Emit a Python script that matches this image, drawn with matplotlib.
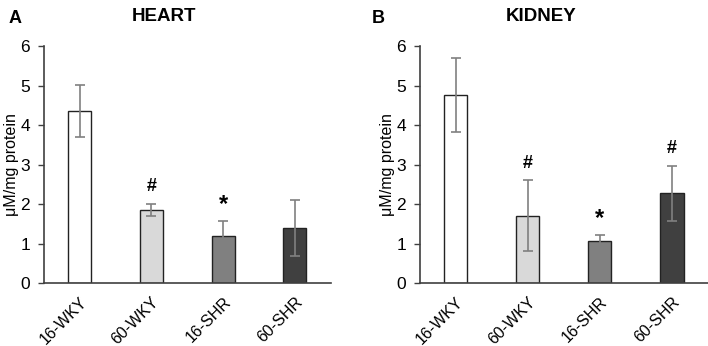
import numpy as np
import matplotlib
matplotlib.use('Agg')
from matplotlib import pyplot as plt

plt.rcParams['font.family'] = ['Liberation Sans', 'DejaVu Sans']

groups = ['16-WKY', '60-WKY', '16-SHR', '60-SHR']
colors = ['#ffffff', '#d9d9d9', '#808080', '#404040']

#heart
heart_mean = [4.35, 1.85, 1.19, 1.39]
heart_err = [0.66, 0.15, 0.39, 0.71]
heart_marks = ['', '#', '*', '']

#kidney
kidney_mean = [4.76, 1.70, 1.07, 2.27]
kidney_err = [0.94, 0.90, 0.14, 0.69]
kidney_marks = ['', '#', '*', '#']

fig = plt.figure(figsize=(7.08, 3.46), dpi=100)
axA = fig.add_axes([0.062, 0.182, 0.405, 0.685])
axB = fig.add_axes([0.593, 0.182, 0.407, 0.685])


def panel(ax, mean, err, marks, title):
    x = np.arange(len(groups))
    ax.bar(x, mean, width=0.32, color=colors, edgecolor='#222222', linewidth=1.0, zorder=2)
    ax.errorbar(x, mean, yerr=err, fmt='none', ecolor='#808080', elinewidth=1.2,
                capsize=3.5, capthick=1.2, zorder=3)
    for i, m in enumerate(marks):
        if m:
            top = mean[i] + err[i]
            if m == '*':
                ax.text(x[i], top + 0.12, m, ha='center', va='bottom', fontsize=17, fontweight='bold')
            else:
                ax.text(x[i], top + 0.22, m, ha='center', va='bottom', fontsize=13, fontweight='bold')
    ax.set_xlim(-0.5, 3.5)
    ax.set_ylim(0, 6)
    ax.set_yticks(range(7))
    ax.set_xticks(x)
    ax.set_xticklabels(groups, rotation=45, ha='right', rotation_mode='anchor', fontsize=11.5)
    ax.tick_params(axis='x', length=0, pad=8)
    ax.tick_params(axis='y', length=4, width=1, color='#404040', labelsize=12.5, pad=6)
    ax.spines['top'].set_visible(False)
    ax.spines['right'].set_visible(False)
    for s in ['left', 'bottom']:
        ax.spines[s].set_color('#404040')
        ax.spines[s].set_linewidth(1.2)
    ax.set_ylabel('μM/mg protein', fontsize=11.5, labelpad=1)
    ax.set_title(title, fontsize=13.5, fontweight='bold', pad=18, x=0.42)


panel(axA, heart_mean, heart_err, heart_marks, 'HEART')
panel(axB, kidney_mean, kidney_err, kidney_marks, 'KIDNEY')

fig.text(0.012, 0.97, 'A', fontsize=13, fontweight='bold', va='top')
fig.text(0.525, 0.97, 'B', fontsize=13, fontweight='bold', va='top')

fig.savefig('out.png', dpi=100)
